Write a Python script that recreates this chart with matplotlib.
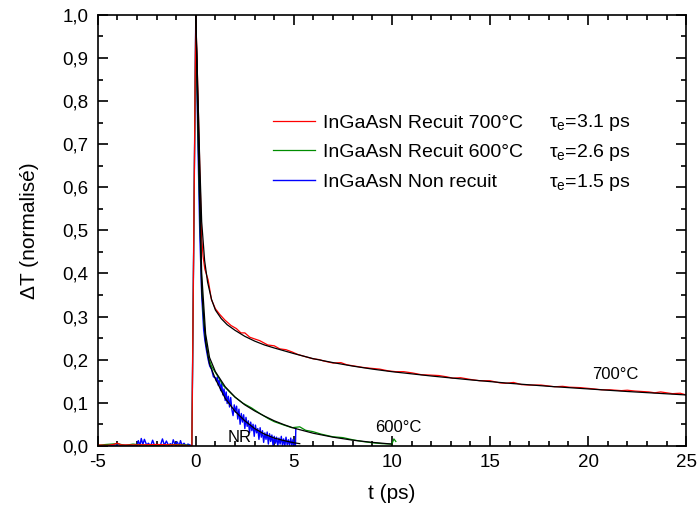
import matplotlib
matplotlib.use("Agg")
import matplotlib.pyplot as plt
from matplotlib.ticker import MultipleLocator, FuncFormatter

plt.rcParams['font.family'] = ['Liberation Sans', 'DejaVu Sans']
plt.rcParams['mathtext.fontset'] = 'custom'
plt.rcParams['mathtext.rm'] = 'Liberation Sans'
plt.rcParams['axes.unicode_minus'] = False

# --- données (t en ps, dT normalisé) ---
t_700 = [-5, -4.5, -4.2, -4.0, -3.8, -3.0, -2.0, -1.0, -0.2, -0.1, 0.0,
         0.06, 0.12, 0.2, 0.29, 0.37, 0.46, 0.63, 0.8, 1.0, 1.22, 1.48, 1.8,
         2.07, 2.3, 2.5, 2.75, 3.0, 3.26, 3.67, 4.0, 4.28, 4.6, 4.9, 5.2, 5.5,
         5.96, 6.3, 6.5, 7.0, 7.4, 7.7, 8.1, 8.5, 8.9, 9.37, 9.8, 10.2, 10.6,
         11.05, 11.5, 12.0, 12.4, 12.8, 13.1, 13.5, 14.0, 14.47, 15.0, 15.5,
         15.8, 16.2, 16.6, 17.0, 17.6, 18.3, 18.7, 19.05, 19.6, 20.3, 20.7,
         21.1, 21.7, 22.0, 22.4, 23.1, 23.4, 23.7, 24.3, 24.7, 25.0]
dT_700 = [0.002, 0.001, 0.003, 0.006, 0.002, 0.002, 0.003, 0.002, 0.0, 0.5, 1.0,
          0.9, 0.80, 0.65, 0.49, 0.44, 0.41, 0.385, 0.339, 0.318, 0.305, 0.292,
          0.279, 0.272, 0.262, 0.262, 0.252, 0.248, 0.244, 0.234, 0.232, 0.225,
          0.223, 0.218, 0.212, 0.208, 0.202, 0.200, 0.197, 0.192, 0.193, 0.188,
          0.185, 0.182, 0.180, 0.178, 0.174, 0.172, 0.172, 0.169, 0.165, 0.164,
          0.163, 0.160, 0.157, 0.158, 0.154, 0.151, 0.151, 0.146, 0.145, 0.147,
          0.142, 0.141, 0.141, 0.137, 0.138, 0.136, 0.135, 0.132, 0.130, 0.130,
          0.128, 0.129, 0.127, 0.125, 0.123, 0.125, 0.121, 0.122, 0.118]

t_600 = [-5, -4.6, -4.0, -3.6, -3.2, -2.8, -2.0, -1.2, -0.5, -0.2, -0.1, 0.0,
         0.1, 0.2, 0.3, 0.4, 0.5, 0.63, 0.8, 1.0, 1.14, 1.4, 1.7, 2.0, 2.4,
         2.84, 3.3, 3.7, 4.0, 4.5, 4.9, 5.3, 5.6, 5.96, 6.4, 6.98, 7.5, 8.0,
         8.5, 9.0, 9.5, 10.0, 10.1, 10.2]
dT_600 = [0.001, 0.003, 0.005, 0.001, 0.004, 0.002, 0.001, 0.003, 0.002, 0.0,
          0.5, 1.0, 0.75, 0.55, 0.38, 0.29, 0.25, 0.207, 0.185, 0.17, 0.16,
          0.14, 0.126, 0.113, 0.099, 0.088, 0.074, 0.063, 0.056, 0.048, 0.042,
          0.044, 0.036, 0.033, 0.027, 0.021, 0.019, 0.014, 0.010, 0.007, 0.005,
          0.004, 0.016, 0.010]

t_nr = [-5, -4.5, -4.0, -3.5, -3.0, -2.93, -2.85, -2.78, -2.7, -2.62, -2.5,
        -2.42, -2.3, -2.2, -2.1, -1.95, -1.88, -1.8, -1.7, -1.6, -1.5, -1.38,
        -1.3, -1.22, -1.15, -1.05, -0.95, -0.85, -0.78, -0.7, -0.6, -0.5, -0.4,
        -0.2, -0.1, 0.0,
        0.1, 0.2, 0.3, 0.4, 0.46, 0.55, 0.63, 0.71, 0.8, 0.9, 1.0,
        1.05, 1.1, 1.15, 1.2, 1.27, 1.32, 1.38, 1.44, 1.5, 1.55, 1.6, 1.66,
        1.72, 1.78, 1.84, 1.9, 1.96, 2.02, 2.08, 2.14, 2.2, 2.26, 2.32, 2.38,
        2.44, 2.5, 2.56, 2.62, 2.68, 2.74, 2.8, 2.86, 2.92, 2.98, 3.04, 3.1,
        3.16, 3.22, 3.28, 3.34, 3.4, 3.46, 3.52, 3.58, 3.64, 3.7, 3.76, 3.82,
        3.88, 3.94, 4.0, 4.06, 4.12, 4.18, 4.24, 4.3, 4.36, 4.42, 4.48, 4.54,
        4.6, 4.66, 4.72, 4.78, 4.84, 4.9, 4.96, 5.02, 5.08, 5.1]
dT_nr = [0.0, 0.001, 0.002, 0.001, 0.0, 0.012, 0.0, 0.017, 0.003, 0.015,
         0.001, 0.006, 0.0, 0.013, 0.0, 0.003, 0.0, 0.002, 0.016, 0.001, 0.011,
         0.0, 0.005, 0.0, 0.014, 0.002, 0.009, 0.0, 0.012, 0.001, 0.006, 0.0,
         0.004, 0.0, 0.5, 1.0,
         0.72, 0.5, 0.35, 0.27, 0.246, 0.22, 0.2, 0.185, 0.178, 0.160, 0.158,
         0.150, 0.160, 0.140, 0.152, 0.128, 0.145, 0.118, 0.132, 0.105, 0.125,
         0.098, 0.115, 0.09, 0.112, 0.084, 0.070, 0.095, 0.078, 0.092, 0.062,
         0.085, 0.05, 0.075, 0.055, 0.072, 0.04, 0.066, 0.045, 0.058, 0.03,
         0.055, 0.035, 0.05, 0.022, 0.048, 0.03, 0.04, 0.015, 0.042, 0.02,
         0.035, 0.008, 0.03, 0.015, 0.032, 0.004, 0.028, 0.01, 0.025, 0.0,
         0.022, 0.006, 0.02, 0.0, 0.018, 0.004, 0.022, 0.0, 0.016, 0.0, 0.02,
         0.002, 0.014, 0.0, 0.018, 0.0, 0.015, 0.0, 0.0, 0.04]

# ajustements (courbes noires)
tfit_700 = [0, 0.1, 0.2, 0.3, 0.45, 0.6, 0.8, 1.0, 1.3, 1.6, 2.0, 2.5, 3.0,
            3.5, 4, 5, 6, 7, 8, 9, 10, 12, 14, 16, 18, 20, 22, 25]
fit_700 = [1.0, 0.83, 0.66, 0.52, 0.43, 0.38, 0.34, 0.315, 0.295, 0.281,
           0.268, 0.254, 0.243, 0.234, 0.227, 0.214, 0.202, 0.193, 0.185,
           0.178, 0.172, 0.162, 0.153, 0.145, 0.138, 0.132, 0.126, 0.118]
tfit_600 = [0, 0.15, 0.3, 0.5, 0.7, 1.0, 1.5, 2.0, 2.5, 3.0, 3.5, 4.0, 4.5,
            5.0, 6.0, 7.0, 8.0, 9.0, 10.0]
fit_600 = [1.0, 0.7, 0.4, 0.26, 0.205, 0.172, 0.137, 0.113, 0.095, 0.081,
           0.069, 0.058, 0.049, 0.041, 0.029, 0.02, 0.013, 0.008, 0.004]
tfit_nr = [0, 0.15, 0.3, 0.5, 0.7, 1.0, 1.5, 2.0, 2.5, 3.0, 3.5, 4.0, 4.5,
           5.0, 5.3]
fit_nr = [1.0, 0.66, 0.36, 0.24, 0.19, 0.155, 0.11, 0.08, 0.058, 0.04, 0.027,
          0.018, 0.012, 0.007, 0.005]

labels = ["InGaAsN Recuit 700°C", "InGaAsN Recuit 600°C", "InGaAsN Non recuit"]
taus = [3.1, 2.6, 1.5]

fig = plt.figure(figsize=(6.98, 5.13), dpi=100)
ax = fig.add_axes([0.140, 0.131, 0.843, 0.840])

l3, = ax.plot(t_nr, dT_nr, color='#0000ff', lw=1.0, label=labels[2])
l2, = ax.plot(t_600, dT_600, color='#008c00', lw=0.9, label=labels[1])
l1, = ax.plot(t_700, dT_700, color='#ff0000', lw=0.9, label=labels[0])
for tf, yf in [(tfit_700, fit_700), (tfit_600, fit_600), (tfit_nr, fit_nr)]:
    ax.plot(tf, yf, color='black', lw=0.9)

ax.set_xlim(-5, 25)
ax.set_ylim(0, 1.0)
ax.xaxis.set_major_locator(MultipleLocator(5))
ax.xaxis.set_minor_locator(MultipleLocator(1))
ax.yaxis.set_major_locator(MultipleLocator(0.1))
ax.yaxis.set_minor_locator(MultipleLocator(0.05))
ax.yaxis.set_major_formatter(FuncFormatter(lambda v, p: f"{v:.1f}".replace('.', ',')))
ax.tick_params(which='both', direction='in', top=True, right=True, width=1.2, labelsize=13.5)
ax.tick_params(which='major', length=7)
ax.tick_params(axis='y', which='major', pad=6.5)
ax.tick_params(axis='x', which='major', pad=6)
ax.tick_params(which='minor', length=3.5)
for s in ax.spines.values():
    s.set_linewidth(1.2)

ax.set_xlabel("t (ps)", fontsize=15, labelpad=9)
ax.set_ylabel("ΔT (normalisé)", fontsize=15, labelpad=17)

leg = ax.legend(handles=[l1, l2, l3], loc='upper left', bbox_to_anchor=(0.298, 0.770),
                frameon=False, fontsize=14, handlelength=2.15, handletextpad=0.4,
                borderpad=0, borderaxespad=0, labelspacing=0.62)

for tau, yb in zip(taus, [0.740, 0.671, 0.601]):
    ax.text(18.0, yb, r"$\mathregular{\tau_e}$" + f"={tau:.1f} ps", fontsize=14, va='baseline')

ax.text(21.4, 0.165, "700°C", fontsize=12, ha='center', va='center')
ax.text(10.35, 0.042, "600°C", fontsize=12, ha='center', va='center')
ax.text(2.24, 0.019, "NR", fontsize=12, ha='center', va='center')

fig.savefig("out.png", dpi=100)
